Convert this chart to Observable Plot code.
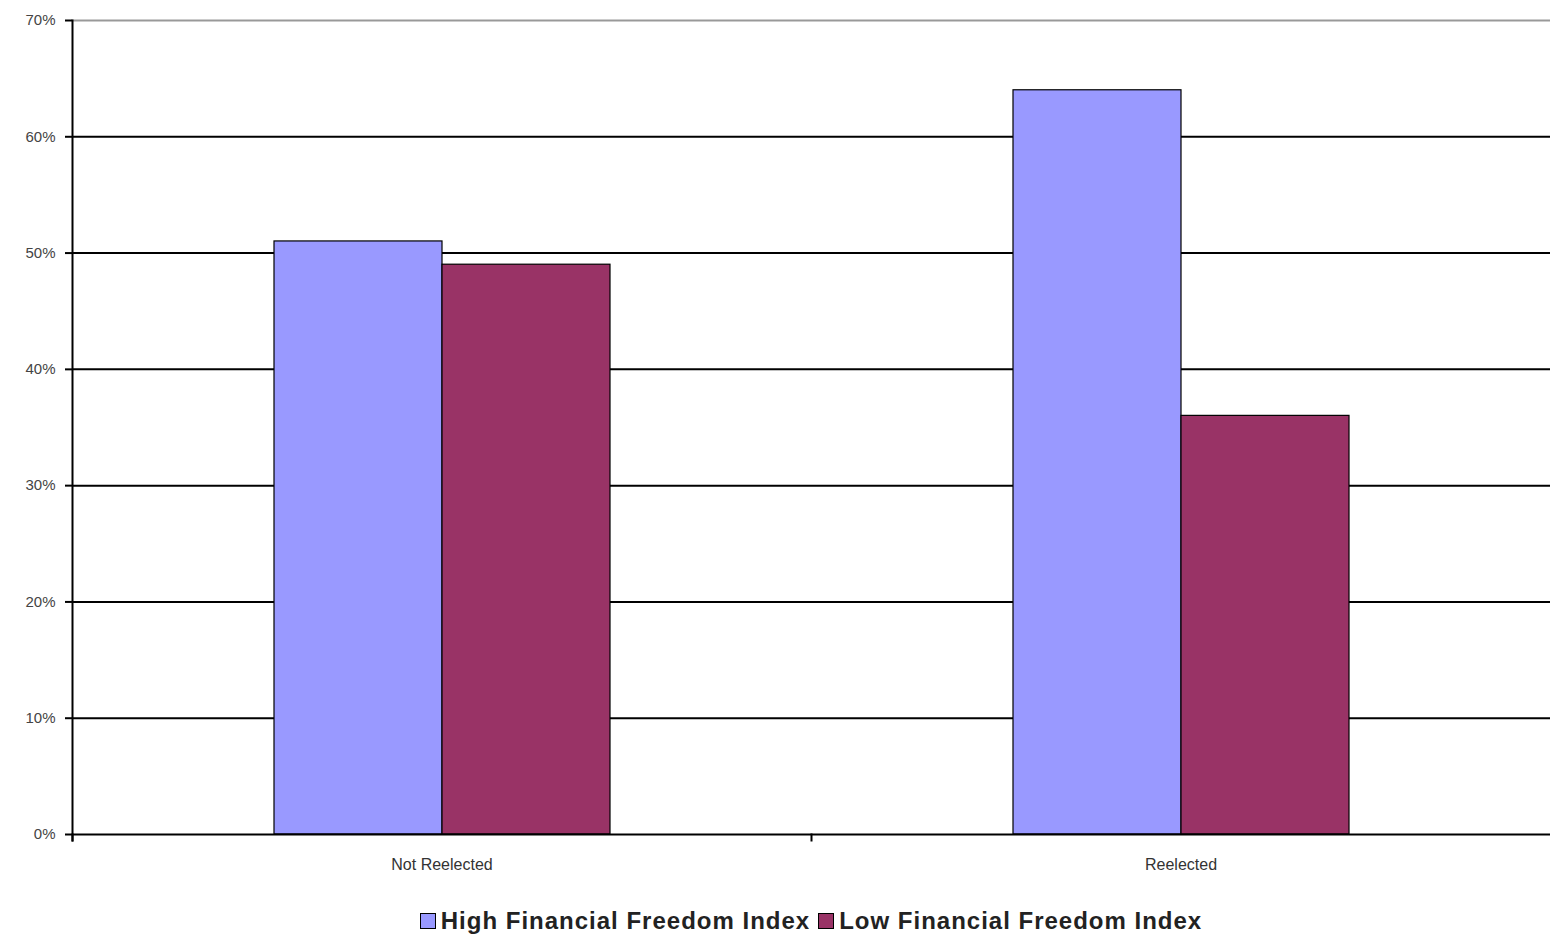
<!DOCTYPE html>
<html>
<head>
<meta charset="utf-8">
<script src="https://cdn.jsdelivr.net/npm/d3@7"></script>
<script src="https://cdn.jsdelivr.net/npm/@observablehq/plot@0.6"></script>
<style>
  body { margin: 0; background: #fff; font-family: Arial, "Liberation Sans", sans-serif; }
  #legend { display: flex; justify-content: center; align-items: center; padding-left: 72px; padding-top: 11px; height: 29px; font-size: 24px; font-weight: bold; color: #222; letter-spacing: 1px; }
  .item { display: flex; align-items: center; margin: 0 4px; }
  .sw { width: 16px; height: 16px; border: 1.5px solid #000; margin-right: 5px; box-sizing: border-box; }
</style>
</head>
<body>
<div id="chart"></div>
<div id="legend"></div>
<script>
const categories = ["Not Reelected", "Reelected"];
const seriesNames = ["High Financial Freedom Index", "Low Financial Freedom Index"];
const highValues = [0.51, 0.64];
const lowValues = [0.49, 0.36];
const colors = ["#9999FF", "#993366"];
const yTicks = [0, 0.1, 0.2, 0.3, 0.4, 0.5, 0.6, 0.7];

const data = [];
categories.forEach((c, i) => {
  data.push({category: c, series: seriesNames[0], value: highValues[i]});
  data.push({category: c, series: seriesNames[1], value: lowValues[i]});
});

const chart = Plot.plot({
  width: 1550,
  height: 895,
  marginLeft: 72,
  marginRight: 0,
  marginTop: 20,
  marginBottom: 61,
  style: {fontFamily: "Arial, 'Liberation Sans', sans-serif", fontSize: "14px", color: "#333", background: "#fff"},
  fx: {domain: categories, padding: 0, label: null},
  x: {domain: seriesNames, paddingInner: 0, paddingOuter: 1.19, axis: null},
  y: {domain: [0, 0.7], label: null},
  color: {domain: seriesNames, range: colors},
  marks: [
    Plot.ruleY(yTicks.filter(d => d > 0 && d < 0.7), {stroke: "#000", strokeWidth: 2}),
    Plot.ruleY([0.7], {stroke: "#999", strokeWidth: 2}),
    Plot.barY(data, {fx: "category", x: "series", y: "value", fill: "series", stroke: "#000", strokeWidth: 1.2}),
    Plot.ruleY([0], {stroke: "#000", strokeWidth: 2}),
    Plot.frame({anchor: "left", facetAnchor: "left", stroke: "#000", strokeWidth: 2, insetBottom: -6}),
    Plot.frame({anchor: "left", stroke: "#000", strokeWidth: 2, insetTop: 814, insetBottom: -6}),
    Plot.axisY({ticks: yTicks, tickFormat: d3.format(".0%"), tickSize: 7, tickPadding: 10, stroke: "#000", strokeWidth: 2, fill: "#444", fontSize: 15}),
    Plot.axisFx({anchor: "bottom", tickSize: 0, tickPadding: 24, fontSize: 16, fill: "#333", label: null})
  ]
});
document.getElementById("chart").appendChild(chart);

const legend = document.getElementById("legend");
seriesNames.forEach((s, i) => {
  const it = document.createElement("div");
  it.className = "item";
  const sw = document.createElement("div");
  sw.className = "sw";
  sw.style.background = colors[i];
  const t = document.createElement("span");
  t.textContent = s;
  it.appendChild(sw);
  it.appendChild(t);
  legend.appendChild(it);
});
</script>
</body>
</html>
